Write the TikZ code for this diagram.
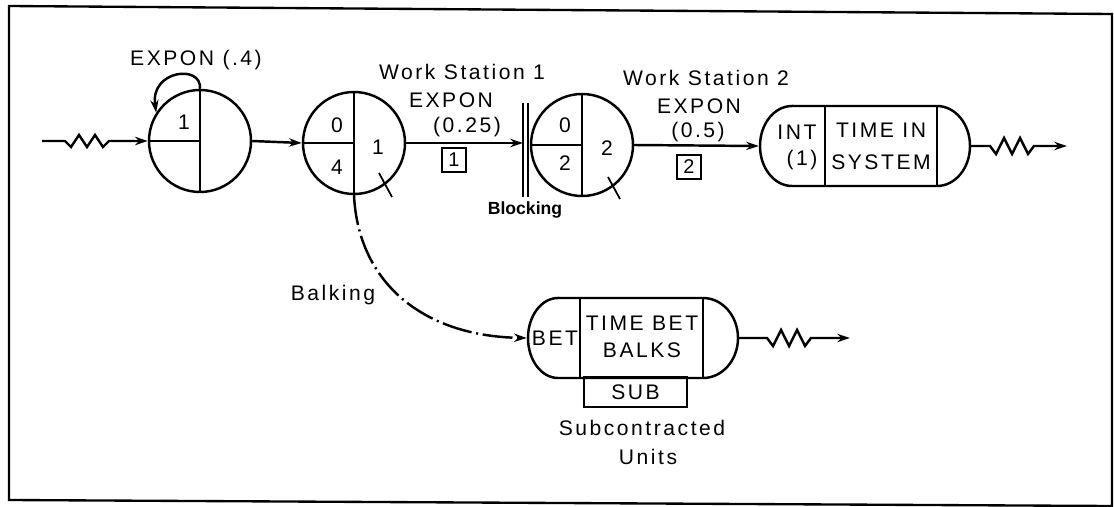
\documentclass[tikz,border=0pt]{standalone}
\usepackage{fontspec}
\setmainfont{Liberation Sans}[LetterSpace=12]
\usetikzlibrary{arrows.meta,calc}
\begin{document}
\begin{tikzpicture}[x=0.03cm,y=-0.03cm,line width=2.1pt,
  txt/.style={inner sep=0pt,font=\fontsize{18}{20}\selectfont},
  qcircle/.style={circle,draw,inner sep=0pt,minimum size=3.06cm},
  arr/.style={-{Stealth[length=3.8mm,width=2.5mm]}},
  numbox/.style={draw,line width=1.6pt,minimum size=0.74cm,inner sep=0pt,font=\fontsize{17}{18}\selectfont},
  pill/.style={inner sep=0pt,minimum width=6.3cm,minimum height=2.4cm},
  subbox/.style={draw,inner sep=0pt,minimum width=3.09cm,minimum height=0.9cm,font=\fontsize{18}{20}\selectfont},
  balk/.style={dash pattern=on 9mm off 1.4mm on 0.6mm off 1.4mm},
  thin divider/.style={line width=1.3pt},
  tick/.style={line width=1.5pt}]
\useasboundingbox (0,0) rectangle (1114,507);
% frame
\draw[line width=2pt] (9,6) -- (1112,14) -- (1112,506) -- (9,500) -- cycle;

% circles
\node[qcircle] (c1) at (200,141) {};
\node[qcircle] (c2) at (354,143) {};
\node[qcircle] (c3) at (582,145) {};
\draw (c1.north) -- (c1.south) (c1.west) -- (c1.center);
\draw (c2.north) -- (c2.south) (c2.west) -- (c2.center);
\draw (c3.north) -- (c3.south) (c3.west) -- (c3.center);
\draw[tick] (c2.center) ++(25,30) -- ++(13,24);
\draw[tick] (c3.center) ++(26,32) -- ++(12,22);

% circle texts
\node[txt] (t11) at (184,122) {1};
\node[txt] (t20) at (337,125) {0};
\node[txt] (t24) at (337,167) {4};
\node[txt] (t21) at (378,147) {1};
\node[txt] (t30) at (565,125) {0};
\node[txt] (t32) at (565,163) {2};
\node[txt] (t3s) at (607,148) {2};

% labels
\node[txt] (lexp) at (196,60) {EXPON (.4)};
\node[txt] (lws1) at (462,72) {Work Station 1};
\node[txt] (lex1) at (451,100) {EXPON};
\node[txt] (lpar1) at (467,127) {(0.25)};
\node[numbox] (b1) at (454,160) {1};
\node[txt] (lws2) at (706,78) {Work Station 2};
\node[txt] (lex2) at (699,106) {EXPON};
\node[txt] (lpar2) at (698,132) {(0.5)};
\node[numbox] (b2) at (689,167) {2};
\node[inner sep=0pt,font=\fontsize{15}{16}\selectfont\bfseries\addfontfeature{LetterSpace=0}] (lblk) at (525,210) {Blocking};
\node[txt] (lbalk) at (333,295) {Balking};

% blocking bars
\draw (523,103) -- (523,197);
\draw (528,103) -- (528,197);
\coordinate (blk) at (523,143);

% INT pill
\node[pill] (sys) at (865,146) {};
\draw (792,106) -- (937,106) arc[start angle=90,end angle=-90,x radius=0.99cm,y radius=1.2cm]
  -- (792,186) arc[start angle=270,end angle=90,x radius=0.96cm,y radius=1.2cm] -- cycle;
\draw (825,106) -- (825,186);
\draw[thin divider] (937,106) -- (937,186);
\node[txt] (lint) at (797,132) {INT};
\node[txt] (lone) at (802,160) {(1)};
\node[txt] (ltime) at (881,130) {TIME IN};
\node[txt] (lsys) at (881,162) {SYSTEM};

% BET pill
\node[pill] (bet) at (633,338) {};
\draw (558,298) -- (703,298) arc[start angle=90,end angle=-90,x radius=1.05cm,y radius=1.2cm]
  -- (558,378) arc[start angle=270,end angle=90,x radius=0.9cm,y radius=1.2cm] -- cycle;
\draw (580,298) -- (580,378);
\draw[thin divider] (703,298) -- (703,378);
\node[txt] (lbet) at (555,338) {BET};
\node[txt] (ltb) at (642,323) {TIME BET};
\node[txt] (lbalks) at (642,350) {BALKS};
\node[subbox] (sub) at (635.5,392) {SUB};
\node[txt] (lsubc) at (642,428) {Subcontracted};
\node[txt] (lunits) at (648,457) {Units};

% connectors
\coordinate (in) at (42,141);
\draw[arr] (in) -- (65,141) -- (71,147) -- (79,135) -- (87,147) -- (95,135) -- (103,147) -- (109,141) -- (c1.west);
\draw[arr] (c1.north) .. controls (202,64) and (150,70) .. (c1.147);
\draw[arr] (c1.east) -- (c2.west);
\draw[arr] (c2.east) -- (blk);
\draw[arr] (c3.east) -- (sys.west);
\coordinate (out1) at (1067,146);
\draw[arr] (sys.east) -- (990,146) -- (996,154) -- (1004,138) -- (1012,154) -- (1020,138) -- (1028,154) -- (1034,146) -- (out1);
\draw[arr,balk] (c2.south) .. controls (358,280) and (420,336) .. (bet.west);
\coordinate (out2) at (850,338);
\draw[arr] (bet.east) -- (767,338) -- (773,346) -- (781,330) -- (789,346) -- (797,330) -- (805,346) -- (811,338) -- (out2);
\end{tikzpicture}
\end{document}
